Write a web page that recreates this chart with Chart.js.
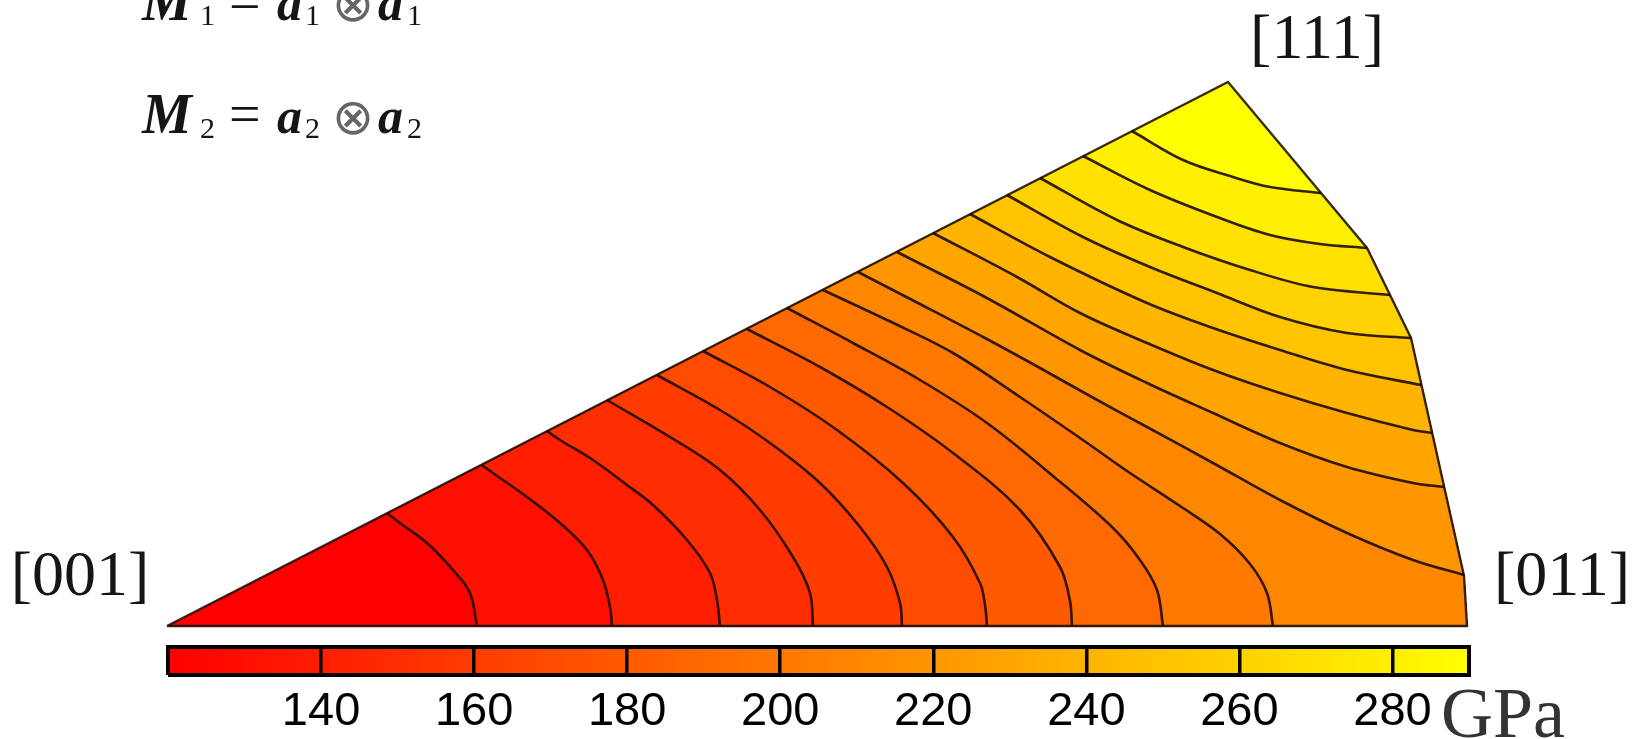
<!DOCTYPE html>
<html>
<head>
<meta charset="utf-8">
<script src="https://cdn.jsdelivr.net/npm/chart.js@4.4.1/dist/chart.umd.min.js"></script>
<style>
    html, body { margin: 0; padding: 0; background: #fff; overflow: hidden; }
    #wrap { position: relative; width: 1647px; height: 739px; }
    #ipf { position: absolute; left: 0; top: 0; }
    #bar { position: absolute; left: 0; top: 630px; }
</style>
</head>
<body>
<div id="wrap">
    <canvas id="ipf" width="1647" height="739"></canvas>
    <canvas id="bar" width="1647" height="109"></canvas>
</div>
<script>
// triangle corners, px of the figure measured from [001] (y up)
const corner001 = [0, 0];
const corner011 = [1300, 0];
const corner111 = [1061, 544];
// the bent [011]-[111] side, bottom to top, ends excluded
const rightEdge = [[1297, 50], [1244, 288], [1200, 378]];

// contour levels (GPa)
const levels = [125, 135, 145, 155, 165, 175, 185, 195, 205, 215, 225, 235, 245, 255, 265, 275, 285];

// contour lines, from the [001]-[111] side inwards
const contour125 = [[220, 113], [233, 103], [260, 83], [286, 56], [303, 33], [310, 0]];
const contour135 = [[315, 161], [326, 153], [360, 129], [393, 103], [420, 76], [436, 46], [443, 19], [445, 0]];
const contour145 = [[380, 195], [393, 186], [426, 166], [460, 141], [486, 121], [520, 86], [543, 53], [550, 26], [553, 0]];
const contour155 = [[440, 226], [503, 189], [553, 156], [593, 116], [626, 69], [643, 33], [646, 0]];
const contour165 = [[490, 251], [553, 216], [603, 183], [653, 143], [693, 99], [720, 59], [733, 23], [735, 0]];
const contour175 = [[536, 275], [603, 239], [670, 196], [736, 143], [786, 89], [813, 43], [818, 21], [820, 0]];
const contour185 = [[580, 297], [653, 259], [720, 219], [786, 173], [853, 116], [893, 59], [903, 25], [905, 0]];
const contour195 = [[620, 318], [686, 283], [753, 246], [820, 203], [886, 150], [946, 98], [973, 66], [990, 36], [996, 0]];
const contour205 = [[656, 336], [720, 306], [786, 273], [853, 229], [913, 188], [963, 153], [1013, 120], [1053, 92], [1083, 62], [1100, 33], [1106, 0]];
const contour215 = [[691, 354], [751, 323], [818, 288], [873, 258], [923, 230], [980, 199], [1046, 163], [1113, 126], [1180, 93], [1246, 66], [1297, 51]];
const contour225 = [[730, 374], [818, 329], [913, 276], [980, 243], [1046, 213], [1113, 183], [1180, 159], [1246, 143], [1277, 139]];
const contour235 = [[766, 393], [850, 349], [913, 313], [980, 283], [1046, 256], [1113, 233], [1180, 213], [1246, 196], [1265, 193]];
const contour245 = [[803, 412], [883, 369], [980, 323], [1046, 298], [1113, 276], [1180, 256], [1254, 241]];
const contour255 = [[840, 431], [916, 389], [983, 359], [1050, 333], [1113, 309], [1180, 293], [1244, 288]];
const contour265 = [[873, 448], [950, 406], [1016, 379], [1083, 356], [1146, 339], [1223, 331]];
const contour275 = [[916, 470], [983, 436], [1050, 409], [1103, 391], [1153, 382], [1200, 378]];
const contour285 = [[965, 495], [1016, 466], [1066, 449], [1103, 439], [1154, 433]];

const contours = [
    contour125, contour135, contour145, contour155, contour165, contour175,
    contour185, contour195, contour205, contour215, contour225, contour235,
    contour245, contour255, contour265, contour275, contour285
];

// colour bar
const barMin = 120;
const barMax = 290;
const barTicks = [140, 160, 180, 200, 220, 240, 260, 280];
const barUnit = 'GPa';

// texts
const cornerLabels = ['[001]', '[011]', '[111]'];
const cornerLabelAt = [[-87, 31], [1395, 31], [1150, 568]];
const formulaRows = [{index: '1', y: 606}, {index: '2', y: 493}];
const formulaX = {M: -25, sub1: 33, eq: 62, a1: 110, sub2: 138, otimes: 186, a2: 211, sub3: 240};

function autumn(v) {
    const t = Math.min(1, Math.max(0, (v - barMin) / (barMax - barMin)));
    return `rgb(255,${Math.round(255 * t)},0)`;
}

function toXY(points) {
    return points.map(p => ({x: p[0], y: p[1]}));
}

// area above a contour: the line, then round the [011]/[111] side back to its start
function regionAbove(line) {
    const pts = line.slice();
    const end = line[line.length - 1];
    if (end[1] === 0) {
        pts.push(corner011);
    }
    rightEdge.filter(p => p[1] > end[1]).forEach(p => pts.push(p));
    pts.push(corner111);
    return pts;
}

function bandValue(k) {
    return k < levels.length - 1 ? (levels[k] + levels[k + 1]) / 2 : levels[k] + 5;
}

const datasets = [];

// outline of the triangle
datasets.push({
    data: toXY([corner001, corner011, ...rightEdge, corner111, corner001]),
    showLine: true, fill: false, pointRadius: 0, tension: 0, clip: false,
    borderColor: 'rgba(20,10,0,0.85)', borderWidth: 2.4, order: 0
});

// contour lines
contours.forEach(line => {
    datasets.push({
        data: toXY(line),
        showLine: true, fill: false, pointRadius: 0, tension: 0.35, clip: false,
        borderColor: 'rgba(30,10,0,0.9)', borderWidth: 2.6, order: 1
    });
});

// filled bands, lowest first
contours.forEach((line, k) => {
    const c = autumn(bandValue(k));
    datasets.push({
        data: toXY(regionAbove(line)),
        showLine: true, fill: 'shape', pointRadius: 0, tension: 0, clip: false,
        backgroundColor: c, borderColor: c, borderWidth: 1, order: 100 - k
    });
});

datasets.push({
    data: toXY([corner001, corner011, ...rightEdge, corner111]),
    showLine: true, fill: 'shape', pointRadius: 0, tension: 0, clip: false,
    backgroundColor: autumn(levels[0] - 5), borderColor: autumn(levels[0] - 5), borderWidth: 1, order: 200
});

const labelPlugin = {
    id: 'ipfLabels',
    afterDatasetsDraw(chart) {
        const {ctx} = chart;
        const x = chart.scales.x;
        const y = chart.scales.y;
        const px = v => x.getPixelForValue(v);
        ctx.save();
        ctx.fillStyle = '#151515';
        ctx.font = '64px "Liberation Serif"';
        ctx.textAlign = 'center';
        ctx.textBaseline = 'alphabetic';
        cornerLabels.forEach((t, i) => {
            ctx.fillText(t, px(cornerLabelAt[i][0]), y.getPixelForValue(cornerLabelAt[i][1]));
        });

        formulaRows.forEach(row => {
            const yb = y.getPixelForValue(row.y);
            ctx.textAlign = 'left';
            ctx.textBaseline = 'alphabetic';
            ctx.font = 'italic bold 56px "Liberation Serif"';
            ctx.fillText('M', px(formulaX.M), yb);
            ctx.font = 'italic bold 50px "Liberation Serif"';
            ctx.fillText('a', px(formulaX.a1), yb);
            ctx.fillText('a', px(formulaX.a2), yb);
            ctx.font = '30px "Liberation Serif"';
            [formulaX.sub1, formulaX.sub2, formulaX.sub3].forEach(v => ctx.fillText(row.index, px(v), yb + 5));
            ctx.font = '56px "Liberation Serif"';
            ctx.fillText('=', px(formulaX.eq), yb);
            ctx.fillStyle = '#666';
            ctx.font = '50px "DejaVu Sans"';
            ctx.textAlign = 'center';
            ctx.textBaseline = 'middle';
            ctx.fillText('\u2297', px(formulaX.otimes), yb - 12);
            ctx.fillStyle = '#151515';
        });
        ctx.restore();
    }
};

new Chart(document.getElementById('ipf'), {
    type: 'scatter',
    data: {datasets: datasets},
    options: {
        responsive: false,
        animation: false,
        events: [],
        layout: {padding: 0},
        plugins: {
            legend: {display: false},
            tooltip: {enabled: false}
        },
        scales: {
            x: {type: 'linear', min: -167, max: 1480, display: false},
            y: {type: 'linear', min: -113, max: 626, display: false}
        }
    },
    plugins: [labelPlugin]
});

function barGradient(chart) {
    const xs = chart.scales.x;
    if (!chart.chartArea || !xs) {
        return autumn(barMin);
    }
    const g = chart.ctx.createLinearGradient(xs.getPixelForValue(barMin), 0, xs.getPixelForValue(barMax), 0);
    g.addColorStop(0, autumn(barMin));
    g.addColorStop(1, autumn(barMax));
    return g;
}

const unitPlugin = {
    id: 'barUnit',
    afterDraw(chart) {
        const {ctx, chartArea} = chart;
        ctx.save();
        ctx.fillStyle = '#333';
        ctx.font = '72px "Liberation Serif"';
        ctx.textAlign = 'left';
        ctx.textBaseline = 'alphabetic';
        ctx.fillText(barUnit, chart.scales.x.getPixelForValue(barMax) - 28, chartArea.bottom + 62);
        ctx.restore();
    }
};

new Chart(document.getElementById('bar'), {
    type: 'scatter',
    data: {
        datasets: [{
            data: toXY([[barMin, 0], [barMax, 0], [barMax, 1], [barMin, 1], [barMin, 0]]),
            showLine: true, fill: 'shape', pointRadius: 0, tension: 0, clip: false,
            borderColor: '#000', borderWidth: 4, borderJoinStyle: 'miter',
            backgroundColor: ctx => barGradient(ctx.chart)
        }]
    },
    options: {
        responsive: false,
        animation: false,
        events: [],
        layout: {padding: {left: 168, right: 178, top: 17, bottom: 3}},
        plugins: {
            legend: {display: false},
            tooltip: {enabled: false}
        },
        scales: {
            x: {
                type: 'linear', min: barMin, max: barMax,
                afterBuildTicks: axis => { axis.ticks = barTicks.map(v => ({value: v})); },
                afterFit: axis => { axis.height = 61; },
                grid: {color: '#000', lineWidth: 3.5, drawTicks: false, drawOnChartArea: true, z: 1},
                border: {display: false},
                ticks: {
                    padding: 14, color: '#000', autoSkip: false, maxRotation: 0,
                    font: {family: 'Liberation Sans', size: 47, lineHeight: 1}
                }
            },
            y: {type: 'linear', min: 0, max: 1, display: false}
        }
    },
    plugins: [unitPlugin]
});
</script>
</body>
</html>
